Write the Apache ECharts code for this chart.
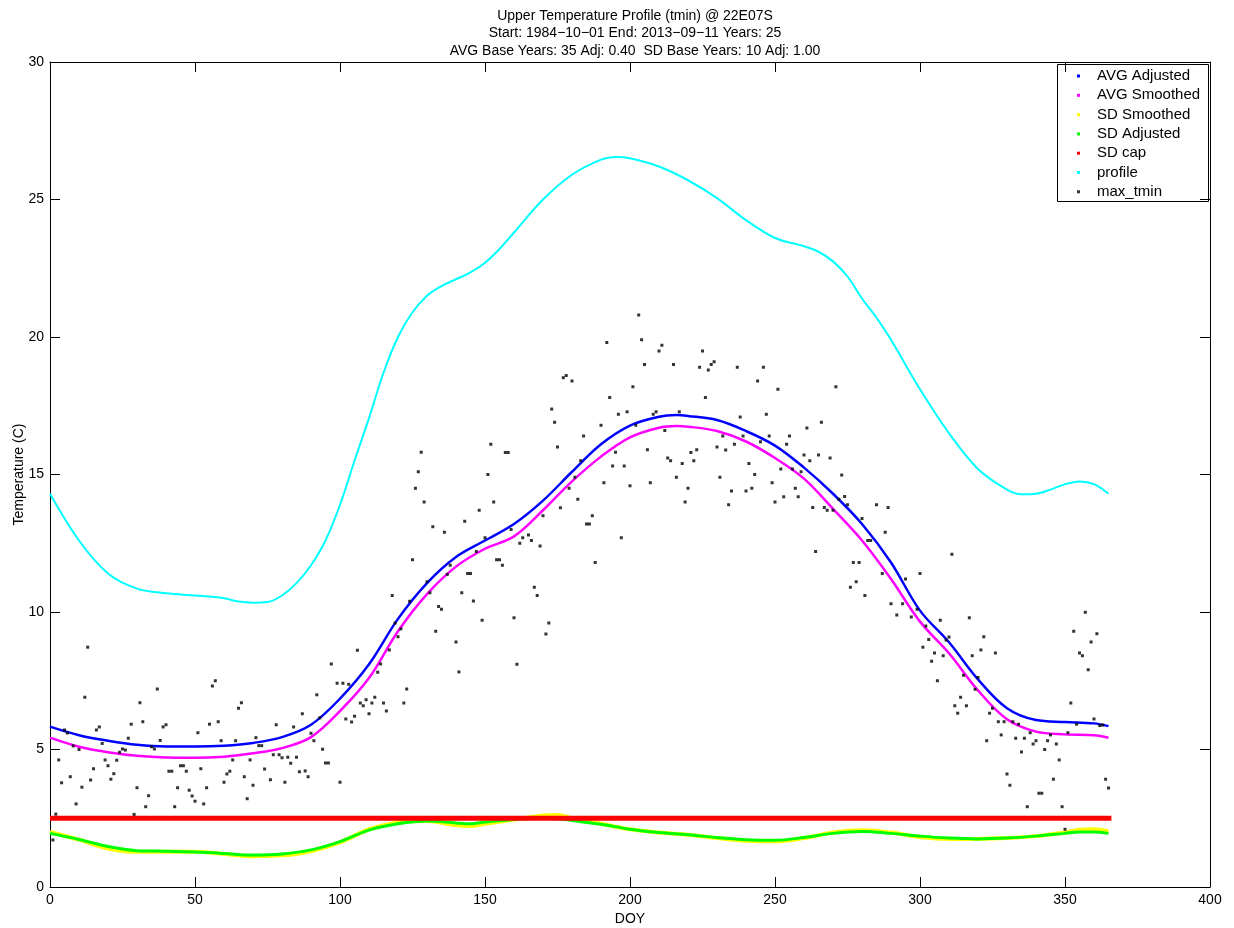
<!DOCTYPE html>
<html>
<head>
<meta charset="utf-8">
<title>Upper Temperature Profile</title>
<script src="https://cdn.jsdelivr.net/npm/echarts@6/dist/echarts.min.js"></script>
<style>
html, body { margin: 0; background: #fff; }
#main { width: 1234px; height: 928px; }
</style>
</head>
<body>
<div id="main"></div>
<script>
// curves, day of year -> temperature (C)
var avgDoy = [0, 10, 20, 30, 40, 50, 60, 70, 80, 90, 100, 110, 120, 130, 140, 150, 160, 170, 180, 190,
              200, 210, 216, 220, 230, 240, 250, 260, 270, 280, 290, 300, 310, 320, 330, 340, 350, 360, 365];
var avgAdjusted = [5.83, 5.52, 5.32, 5.17, 5.11, 5.11, 5.14, 5.24, 5.45, 5.9, 6.85, 8.1, 9.75, 11.05, 12.0, 12.6, 13.2, 14.05, 15.1, 16.1,
                   16.78, 17.1, 17.16, 17.13, 16.98, 16.58, 16.05, 15.25, 14.3, 13.2, 11.8, 10.05, 8.9, 7.55, 6.5, 6.07, 6.0, 5.95, 5.85];
var avgSmoothed = [5.43, 5.1, 4.9, 4.77, 4.71, 4.7, 4.74, 4.86, 5.05, 5.45, 6.4, 7.6, 9.3, 10.65, 11.65, 12.3, 12.75, 13.7, 14.75, 15.65,
                   16.35, 16.7, 16.76, 16.74, 16.58, 16.2, 15.6, 14.85, 13.75, 12.6, 11.2, 9.65, 8.5, 7.15, 6.1, 5.65, 5.55, 5.52, 5.43];

var profileDoy = [0, 10, 20, 30, 40, 50, 60, 65, 70, 75, 80, 85, 90, 95, 100, 105, 110, 115, 120, 125, 130, 135, 140, 145,
                  150, 155, 160, 170, 180, 190, 195, 200, 210, 220, 230, 240, 250, 260, 265, 270, 275, 280, 285, 290,
                  300, 310, 320, 330, 335, 340, 345, 350, 355, 360, 365];
var profile = [14.3, 12.6, 11.4, 10.85, 10.68, 10.6, 10.5, 10.38, 10.34, 10.36, 10.6, 11.05, 11.7, 12.6, 13.9, 15.5, 17.05, 18.7, 20.0, 20.9, 21.5, 21.85, 22.1, 22.35,
               22.7, 23.2, 23.8, 25.0, 25.9, 26.45, 26.55, 26.5, 26.2, 25.7, 25.05, 24.25, 23.6, 23.3, 23.1, 22.75, 22.2, 21.4, 20.7, 19.9,
               18.1, 16.5, 15.2, 14.45, 14.28, 14.3, 14.45, 14.65, 14.75, 14.65, 14.3];

var sdDoy = [0, 10, 20, 30, 40, 50, 60, 70, 80, 90, 100, 110, 120, 130, 140, 145, 150, 160, 170, 175, 180, 190,
             200, 210, 220, 230, 240, 250, 260, 270, 280, 290, 300, 310, 320, 330, 340, 350, 355, 360, 365];
var sdSmoothed = [2.0, 1.72, 1.4, 1.28, 1.28, 1.28, 1.2, 1.12, 1.15, 1.3, 1.62, 2.1, 2.35, 2.4, 2.25, 2.22, 2.3, 2.45, 2.6, 2.62, 2.5, 2.3,
                  2.1, 1.98, 1.9, 1.78, 1.68, 1.66, 1.78, 1.98, 2.06, 1.98, 1.82, 1.75, 1.75, 1.78, 1.85, 1.98, 2.08, 2.1, 2.02];
var sdAdjusted = [1.95, 1.73, 1.47, 1.32, 1.3, 1.27, 1.22, 1.16, 1.2, 1.35, 1.65, 2.07, 2.3, 2.4, 2.33, 2.3, 2.36, 2.45, 2.5, 2.48, 2.42, 2.28,
                  2.1, 1.98, 1.9, 1.8, 1.72, 1.7, 1.8, 1.95, 2.02, 1.95, 1.85, 1.78, 1.75, 1.78, 1.85, 1.95, 2.0, 2.0, 1.95];

var capDoy = [0, 366];
var sdCap = [2.5, 2.5];

// daily max tmin points
var tminDoy = [1, 2, 3, 4, 5, 6, 7, 8, 9, 10, 11, 12, 13, 14, 15, 16, 17, 18, 19, 20,
  21, 22, 23, 24, 25, 26, 27, 28, 29, 30, 31, 32, 33, 34, 35, 36, 37, 38, 39, 40,
  41, 42, 43, 44, 45, 46, 47, 48, 49, 50, 51, 52, 53, 54, 55, 56, 57, 58, 59, 60,
  61, 62, 63, 64, 65, 66, 67, 68, 69, 70, 71, 72, 73, 74, 76, 77, 78, 79, 80, 81,
  82, 83, 84, 85, 86, 87, 88, 89, 90, 91, 92, 93, 94, 95, 96, 97, 99, 100, 101, 102,
  103, 104, 105, 106, 107, 108, 109, 110, 111, 112, 113, 114, 115, 116, 117, 118, 119, 120, 121, 122,
  123, 124, 125, 126, 127, 128, 129, 130, 131, 132, 133, 134, 135, 136, 137, 138, 140, 141, 142, 143,
  144, 145, 146, 147, 148, 149, 150, 151, 152, 153, 154, 155, 156, 157, 158, 159, 160, 161, 162, 163,
  165, 166, 167, 168, 169, 170, 171, 172, 173, 174, 175, 176, 177, 178, 179, 180, 181, 182, 183, 184,
  185, 186, 187, 188, 190, 191, 192, 193, 194, 195, 196, 197, 198, 199, 200, 201, 202, 203, 204, 205,
  206, 207, 208, 209, 210, 211, 212, 213, 214, 215, 216, 217, 218, 219, 220, 221, 222, 223, 224, 225,
  226, 227, 228, 229, 230, 231, 232, 233, 234, 235, 236, 237, 238, 239, 240, 241, 242, 243, 244, 245,
  246, 247, 248, 249, 250, 251, 252, 253, 254, 255, 256, 257, 258, 259, 260, 261, 262, 263, 264, 265,
  266, 267, 268, 269, 270, 271, 272, 273, 274, 275, 276, 277, 278, 279, 280, 281, 282, 283, 285, 287,
  288, 289, 290, 292, 294, 295, 297, 299, 300, 301, 302, 303, 304, 305, 306, 307, 308, 309, 310, 311,
  312, 313, 314, 315, 316, 317, 318, 319, 320, 321, 322, 323, 324, 325, 326, 327, 328, 329, 330, 331,
  332, 333, 334, 335, 336, 337, 338, 339, 340, 341, 342, 343, 344, 345, 346, 347, 348, 349, 350, 351,
  352, 353, 354, 355, 356, 357, 358, 359, 360, 361, 362, 363, 364, 365];
var maxTmin = [1.71, 2.65, 4.62, 3.79, 5.71, 5.6, 4.01, 5.13, 3.02, 5.0, 3.63, 6.9, 8.72, 3.89, 4.3, 5.71, 5.82, 5.22, 4.62, 4.41,
  3.92, 4.12, 4.61, 4.9, 5.02, 4.98, 5.41, 5.92, 2.64, 3.61, 6.7, 6.01, 2.92, 3.32, 5.1, 5.02, 7.2, 5.33, 5.82, 5.9,
  4.21, 4.21, 2.92, 3.61, 4.41, 4.41, 4.21, 3.52, 3.31, 3.12, 5.61, 4.3, 3.02, 3.61, 5.92, 7.31, 7.5, 6.01, 5.32, 3.81,
  4.11, 4.21, 4.62, 5.32, 6.5, 6.7, 4.01, 3.21, 4.62, 3.7, 5.43, 5.14, 5.14, 4.29, 3.9, 4.81, 5.9, 4.81, 4.7, 3.81,
  4.72, 4.5, 5.82, 4.72, 4.19, 6.3, 4.22, 4.01, 5.59, 5.32, 6.99, 6.15, 5.01, 4.51, 4.51, 8.11, 7.41, 3.81, 7.41, 6.11,
  7.37, 6.0, 6.21, 8.61, 6.69, 6.59, 6.81, 6.3, 6.69, 6.9, 7.81, 8.11, 6.69, 6.4, 8.62, 10.6, 9.6, 9.1, 9.39, 6.69,
  7.2, 10.39, 11.9, 14.5, 15.1, 15.81, 14.0, 11.1, 10.7, 13.1, 9.3, 10.2, 10.1, 12.9, 11.37, 11.7, 8.91, 7.82, 10.7, 13.3,
  11.4, 11.4, 10.4, 12.2, 13.7, 9.7, 12.7, 15.0, 16.1, 14.0, 11.9, 11.9, 11.7, 15.8, 15.8, 13.0, 9.79, 8.1, 12.5, 12.7,
  12.8, 12.6, 10.9, 10.6, 12.4, 13.5, 9.2, 9.6, 17.38, 16.9, 16.0, 13.79, 18.52, 18.6, 14.5, 18.4, 14.9, 14.1, 15.5, 16.4,
  13.2, 13.2, 13.5, 11.8, 16.79, 14.7, 19.8, 17.8, 15.31, 15.81, 17.19, 12.7, 15.31, 17.28, 14.59, 18.19, 16.79, 20.8, 19.9, 19.0,
  15.9, 14.7, 17.19, 17.28, 19.49, 19.7, 16.6, 15.6, 15.5, 19.0, 14.9, 17.28, 15.4, 14.0, 14.5, 15.8, 15.5, 15.9, 18.9, 19.49,
  17.8, 18.8, 19.0, 19.1, 16.0, 14.9, 16.4, 15.89, 13.9, 14.4, 16.1, 18.9, 17.09, 16.4, 14.4, 15.4, 14.5, 15.0, 18.4, 16.19,
  18.9, 17.19, 16.4, 14.7, 14.0, 18.1, 15.2, 14.19, 16.1, 16.4, 15.2, 14.5, 14.19, 15.1, 15.71, 16.69, 15.5, 13.8, 12.2, 15.71,
  16.9, 13.8, 13.7, 15.6, 13.7, 18.19, 14.1, 14.98, 14.2, 13.9, 10.9, 11.8, 11.1, 11.8, 13.4, 10.6, 12.6, 12.6, 13.9, 11.4,
  12.9, 13.8, 10.3, 9.89, 10.3, 11.2, 9.82, 10.1, 11.4, 8.72, 9.49, 9.0, 8.21, 8.51, 7.5, 9.7, 8.41, 8.98, 9.09, 12.1,
  6.59, 6.32, 6.9, 7.7, 6.59, 9.79, 8.41, 7.19, 7.62, 8.62, 9.1, 5.32, 6.32, 6.5, 8.51, 6.01, 5.53, 6.01, 4.11, 3.7,
  6.01, 5.41, 5.92, 4.91, 5.41, 2.92, 5.61, 5.2, 5.32, 3.41, 3.41, 5.0, 5.32, 5.53, 3.92, 5.2, 4.62, 2.92, 2.1, 5.61,
  6.69, 9.3, 5.92, 8.51, 8.41, 9.99, 7.9, 8.91, 6.11, 9.21, 5.87, 5.89, 3.92, 3.6];

var titleLines = ['Upper Temperature Profile (tmin) @ 22E07S',
                  'Start: 1984\u221210\u221201 End: 2013\u221209\u221211 Years: 25',
                  'AVG Base Years: 35 Adj: 0.40  SD Base Years: 10 Adj: 1.00'];

function pairs(xs, ys) {
	var out = [];
	for (var i = 0; i < xs.length; i++) {
		out.push([xs[i], ys[i]]);
	}
	return out;
}

var font = 'Liberation Sans, Arial, Helvetica, sans-serif';
var dom = document.getElementById('main');
var myChart = echarts.init(dom, null, { renderer: 'canvas' });

function lineSeries(name, xs, ys, color, width) {
	return {
		name: name,
		type: 'line',
		data: pairs(xs, ys),
		smooth: 0.35,
		symbol: 'none',
		color: color,
		lineStyle: { color: color, width: width },
		z: 2
	};
}

function axisCommon() {
	return {
		axisLine: { show: true, onZero: false, lineStyle: { color: '#000', width: 1 } },
		axisTick: { show: true, inside: true, length: 10, lineStyle: { color: '#000' } },
		splitLine: { show: false }
	};
}

var option = {
	animation: false,
	backgroundColor: '#fff',
	textStyle: { fontFamily: font },
	title: {
		text: titleLines.join('\n'),
		left: 630,
		top: 2,
		textAlign: 'center',
		textStyle: { fontFamily: font, fontSize: 14, fontWeight: 'normal', color: '#000', lineHeight: 17.5 }
	},
	grid: { left: 50, right: 24, top: 62, bottom: 41, outerBoundsMode: 'none', containLabel: false },
	legend: {
		orient: 'vertical',
		left: 1077,
		top: 68,
		padding: 0,
		itemWidth: 3,
		itemHeight: 3,
		itemGap: 3.3,
		textStyle: { fontFamily: font, fontSize: 15, color: '#000', lineHeight: 16, padding: [0, 0, 0, 12] },
		data: [
			{ name: 'AVG Adjusted', icon: 'rect' },
			{ name: 'AVG Smoothed', icon: 'rect' },
			{ name: 'SD Smoothed', icon: 'rect' },
			{ name: 'SD Adjusted', icon: 'rect' },
			{ name: 'SD cap', icon: 'rect' },
			{ name: 'profile', icon: 'rect' },
			{ name: 'max_tmin', icon: 'rect' }
		]
	},
	graphic: [{
		type: 'rect',
		shape: { x: 1057.5, y: 64.5, width: 151, height: 137 },
		style: { fill: null, stroke: '#000', lineWidth: 1 },
		z: 0
	}],
	xAxis: [
		Object.assign(axisCommon(), {
			type: 'value', min: 0, max: 400, interval: 50,
			name: 'DOY', nameLocation: 'middle', nameGap: 24,
			nameTextStyle: { fontFamily: font, fontSize: 14, color: '#000' },
			axisLabel: { fontFamily: font, fontSize: 14, color: '#000', margin: 6 }
		}),
		Object.assign(axisCommon(), {
			type: 'value', min: 0, max: 400, interval: 50, position: 'top',
			axisLabel: { show: false }
		})
	],
	yAxis: [
		Object.assign(axisCommon(), {
			type: 'value', min: 0, max: 30, interval: 5,
			name: 'Temperature (C)', nameLocation: 'middle', nameGap: 24, nameMoveOverlap: false,
			nameTextStyle: { fontFamily: font, fontSize: 14, color: '#000' },
			axisLabel: { fontFamily: font, fontSize: 14, color: '#000', margin: 6 }
		}),
		Object.assign(axisCommon(), {
			type: 'value', min: 0, max: 30, interval: 5, position: 'right',
			axisLabel: { show: false }
		})
	],
	series: [
		lineSeries('profile', profileDoy, profile, '#00ffff', 2),
		lineSeries('AVG Adjusted', avgDoy, avgAdjusted, '#0000ff', 2.5),
		lineSeries('AVG Smoothed', avgDoy, avgSmoothed, '#ff00ff', 2.5),
		lineSeries('SD Smoothed', sdDoy, sdSmoothed, '#ffff00', 4),
		lineSeries('SD Adjusted', sdDoy, sdAdjusted, '#00ff00', 3),
		lineSeries('SD cap', capDoy, sdCap, '#ff0000', 5),
		{
			name: 'max_tmin',
			type: 'scatter',
			data: pairs(tminDoy, maxTmin),
			symbol: 'rect',
			symbolSize: 3,
			color: '#000',
			itemStyle: { color: '#000' },
			z: 5
		}
	]
};

if (option && typeof option === 'object') {
	myChart.setOption(option, true);
}
</script>
</body>
</html>
